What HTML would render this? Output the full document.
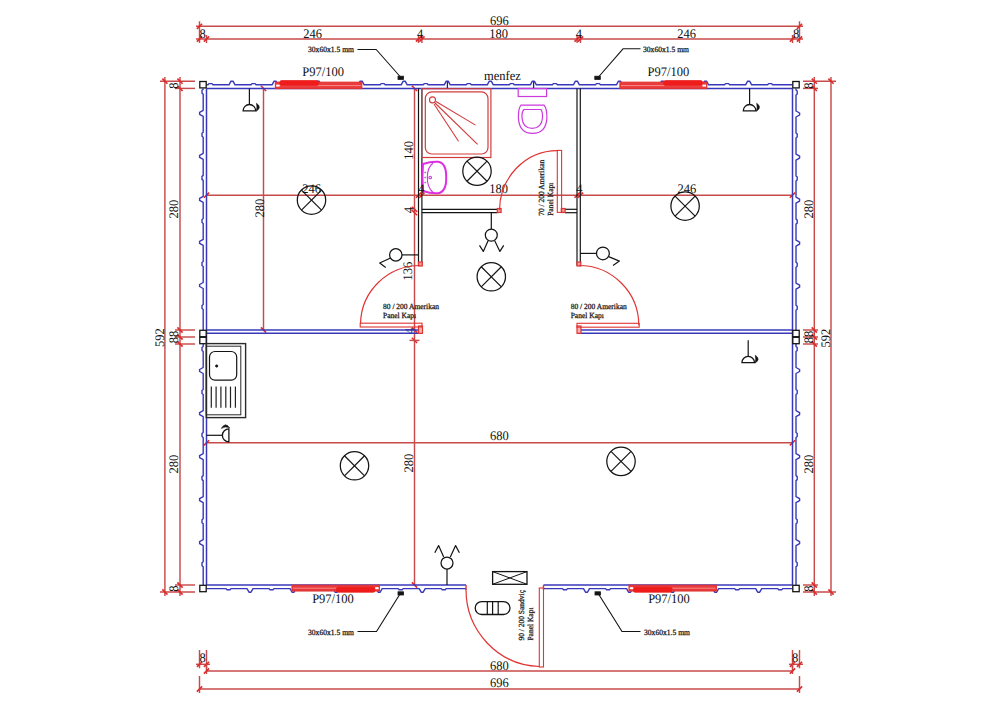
<!DOCTYPE html>
<html><head><meta charset="utf-8"><style>
html,body{margin:0;padding:0;background:#fff;width:1000px;height:707px;overflow:hidden}
svg{display:block}
text{font-family:"Liberation Serif",serif;text-rendering:geometricPrecision}
</style></head><body>
<svg width="1000" height="707" viewBox="0 0 1000 707">
<rect width="1000" height="707" fill="#fff"/>
<line x1="196" y1="26.3" x2="803" y2="26.3" stroke="#c84a4a" stroke-width="1.45" />
<line x1="196" y1="39" x2="803" y2="39" stroke="#c84a4a" stroke-width="1.45" />
<line x1="199.5" y1="21.3" x2="199.5" y2="43" stroke="#c84a4a" stroke-width="1.45" />
<line x1="196.9" y1="28.9" x2="202.1" y2="23.7" stroke="#e02a2a" stroke-width="1.6" />
<line x1="196.9" y1="41.6" x2="202.1" y2="36.4" stroke="#e02a2a" stroke-width="1.6" />
<line x1="799.5" y1="21.3" x2="799.5" y2="43" stroke="#c84a4a" stroke-width="1.45" />
<line x1="796.9" y1="28.9" x2="802.1" y2="23.7" stroke="#e02a2a" stroke-width="1.6" />
<line x1="796.9" y1="41.6" x2="802.1" y2="36.4" stroke="#e02a2a" stroke-width="1.6" />
<line x1="206.5" y1="35" x2="206.5" y2="43" stroke="#c84a4a" stroke-width="1.45" />
<line x1="203.9" y1="41.6" x2="209.1" y2="36.4" stroke="#e02a2a" stroke-width="1.6" />
<line x1="418.5" y1="35" x2="418.5" y2="43" stroke="#c84a4a" stroke-width="1.45" />
<line x1="415.9" y1="41.6" x2="421.1" y2="36.4" stroke="#e02a2a" stroke-width="1.6" />
<line x1="421.9" y1="35" x2="421.9" y2="43" stroke="#c84a4a" stroke-width="1.45" />
<line x1="419.3" y1="41.6" x2="424.5" y2="36.4" stroke="#e02a2a" stroke-width="1.6" />
<line x1="577.1" y1="35" x2="577.1" y2="43" stroke="#c84a4a" stroke-width="1.45" />
<line x1="574.5" y1="41.6" x2="579.7" y2="36.4" stroke="#e02a2a" stroke-width="1.6" />
<line x1="580.5" y1="35" x2="580.5" y2="43" stroke="#c84a4a" stroke-width="1.45" />
<line x1="577.9" y1="41.6" x2="583.1" y2="36.4" stroke="#e02a2a" stroke-width="1.6" />
<line x1="792.5" y1="35" x2="792.5" y2="43" stroke="#c84a4a" stroke-width="1.45" />
<line x1="789.9" y1="41.6" x2="795.1" y2="36.4" stroke="#e02a2a" stroke-width="1.6" />
<text transform="translate(499.3,24.8) scale(1,1.05)" font-size="12.5" text-anchor="middle" fill="#111" font-family="Liberation Serif">696</text>
<text transform="translate(202.6,37.5) scale(1,1.05)" font-size="12.5" text-anchor="middle" fill="#111" font-family="Liberation Serif">8</text>
<text transform="translate(312.5,37.5) scale(1,1.05)" font-size="12.5" text-anchor="middle" fill="#111" font-family="Liberation Serif">246</text>
<text transform="translate(420.2,37.5) scale(1,1.05)" font-size="12.5" text-anchor="middle" fill="#111" font-family="Liberation Serif">4</text>
<text transform="translate(498.5,37.5) scale(1,1.05)" font-size="12.5" text-anchor="middle" fill="#111" font-family="Liberation Serif">180</text>
<text transform="translate(578.8,37.5) scale(1,1.05)" font-size="12.5" text-anchor="middle" fill="#111" font-family="Liberation Serif">4</text>
<text transform="translate(686.5,37.5) scale(1,1.05)" font-size="12.5" text-anchor="middle" fill="#111" font-family="Liberation Serif">246</text>
<text transform="translate(796,37.5) scale(1,1.05)" font-size="12.5" text-anchor="middle" fill="#111" font-family="Liberation Serif">8</text>
<line x1="206.5" y1="671" x2="792.5" y2="671" stroke="#c84a4a" stroke-width="1.45" />
<line x1="196" y1="664.3" x2="210" y2="664.3" stroke="#c84a4a" stroke-width="1.45" />
<line x1="789" y1="664.3" x2="803" y2="664.3" stroke="#c84a4a" stroke-width="1.45" />
<line x1="199.5" y1="689" x2="799.5" y2="689" stroke="#c84a4a" stroke-width="1.45" />
<line x1="199.5" y1="650" x2="199.5" y2="668.3" stroke="#c84a4a" stroke-width="1.45" />
<line x1="196.9" y1="666.9" x2="202.1" y2="661.7" stroke="#e02a2a" stroke-width="1.6" />
<line x1="206.5" y1="650" x2="206.5" y2="668.3" stroke="#c84a4a" stroke-width="1.45" />
<line x1="203.9" y1="666.9" x2="209.1" y2="661.7" stroke="#e02a2a" stroke-width="1.6" />
<line x1="799.5" y1="650" x2="799.5" y2="668.3" stroke="#c84a4a" stroke-width="1.45" />
<line x1="796.9" y1="666.9" x2="802.1" y2="661.7" stroke="#e02a2a" stroke-width="1.6" />
<line x1="792.5" y1="650" x2="792.5" y2="668.3" stroke="#c84a4a" stroke-width="1.45" />
<line x1="789.9" y1="666.9" x2="795.1" y2="661.7" stroke="#e02a2a" stroke-width="1.6" />
<line x1="206.5" y1="664.3" x2="206.5" y2="674" stroke="#c84a4a" stroke-width="1.45" />
<line x1="203.9" y1="673.6" x2="209.1" y2="668.4" stroke="#e02a2a" stroke-width="1.6" />
<line x1="792.5" y1="664.3" x2="792.5" y2="674" stroke="#c84a4a" stroke-width="1.45" />
<line x1="789.9" y1="673.6" x2="795.1" y2="668.4" stroke="#e02a2a" stroke-width="1.6" />
<line x1="199.5" y1="676" x2="199.5" y2="693" stroke="#c84a4a" stroke-width="1.45" />
<line x1="196.9" y1="691.6" x2="202.1" y2="686.4" stroke="#e02a2a" stroke-width="1.6" />
<line x1="799.5" y1="676" x2="799.5" y2="693" stroke="#c84a4a" stroke-width="1.45" />
<line x1="796.9" y1="691.6" x2="802.1" y2="686.4" stroke="#e02a2a" stroke-width="1.6" />
<text transform="translate(202.5,662) scale(1,1.05)" font-size="12.5" text-anchor="middle" fill="#111" font-family="Liberation Serif">8</text>
<text transform="translate(795,662) scale(1,1.05)" font-size="12.5" text-anchor="middle" fill="#111" font-family="Liberation Serif">8</text>
<text transform="translate(499.3,670) scale(1,1.05)" font-size="12.5" text-anchor="middle" fill="#111" font-family="Liberation Serif">680</text>
<text transform="translate(499.3,687) scale(1,1.05)" font-size="12.5" text-anchor="middle" fill="#111" font-family="Liberation Serif">696</text>
<line x1="164.9" y1="77" x2="164.9" y2="596" stroke="#c84a4a" stroke-width="1.45" />
<line x1="180" y1="77" x2="180" y2="596" stroke="#c84a4a" stroke-width="1.45" />
<line x1="160" y1="81.2" x2="195" y2="81.2" stroke="#c84a4a" stroke-width="1.45" />
<line x1="160" y1="592" x2="195" y2="592" stroke="#c84a4a" stroke-width="1.45" />
<line x1="177.4" y1="78.6" x2="182.6" y2="83.8" stroke="#e02a2a" stroke-width="1.6" />
<line x1="175" y1="88.4" x2="195" y2="88.4" stroke="#c84a4a" stroke-width="1.45" />
<line x1="177.4" y1="85.8" x2="182.6" y2="91" stroke="#e02a2a" stroke-width="1.6" />
<line x1="175" y1="330" x2="195" y2="330" stroke="#c84a4a" stroke-width="1.45" />
<line x1="177.4" y1="327.4" x2="182.6" y2="332.6" stroke="#e02a2a" stroke-width="1.6" />
<line x1="175" y1="337" x2="195" y2="337" stroke="#c84a4a" stroke-width="1.45" />
<line x1="177.4" y1="334.4" x2="182.6" y2="339.6" stroke="#e02a2a" stroke-width="1.6" />
<line x1="175" y1="344" x2="195" y2="344" stroke="#c84a4a" stroke-width="1.45" />
<line x1="177.4" y1="341.4" x2="182.6" y2="346.6" stroke="#e02a2a" stroke-width="1.6" />
<line x1="175" y1="585" x2="195" y2="585" stroke="#c84a4a" stroke-width="1.45" />
<line x1="177.4" y1="582.4" x2="182.6" y2="587.6" stroke="#e02a2a" stroke-width="1.6" />
<line x1="177.4" y1="589.4" x2="182.6" y2="594.6" stroke="#e02a2a" stroke-width="1.6" />
<line x1="162.3" y1="78.6" x2="167.5" y2="83.8" stroke="#e02a2a" stroke-width="1.6" />
<line x1="162.3" y1="589.4" x2="167.5" y2="594.6" stroke="#e02a2a" stroke-width="1.6" />
<text transform="translate(159.7,337.5) rotate(-90) translate(0,4.12) scale(1,1.05)" font-size="12.5" text-anchor="middle" fill="#111" font-family="Liberation Serif">592</text>
<text transform="translate(174.3,85.5) rotate(-90) translate(0,4.12) scale(1,1.05)" font-size="12.5" text-anchor="middle" fill="#111" font-family="Liberation Serif">8</text>
<text transform="translate(174.3,209) rotate(-90) translate(0,4.12) scale(1,1.05)" font-size="12.5" text-anchor="middle" fill="#111" font-family="Liberation Serif">280</text>
<text transform="translate(174.3,337) rotate(-90) translate(0,4.12) scale(1,1.05)" font-size="12.5" text-anchor="middle" fill="#111" font-family="Liberation Serif">88</text>
<text transform="translate(174.3,464) rotate(-90) translate(0,4.12) scale(1,1.05)" font-size="12.5" text-anchor="middle" fill="#111" font-family="Liberation Serif">280</text>
<text transform="translate(174.3,588.5) rotate(-90) translate(0,4.12) scale(1,1.05)" font-size="12.5" text-anchor="middle" fill="#111" font-family="Liberation Serif">8</text>
<line x1="814.3" y1="77" x2="814.3" y2="596" stroke="#c84a4a" stroke-width="1.45" />
<line x1="831" y1="77" x2="831" y2="596" stroke="#c84a4a" stroke-width="1.45" />
<line x1="803" y1="81.2" x2="836" y2="81.2" stroke="#c84a4a" stroke-width="1.45" />
<line x1="803" y1="592" x2="836" y2="592" stroke="#c84a4a" stroke-width="1.45" />
<line x1="811.7" y1="78.6" x2="816.9" y2="83.8" stroke="#e02a2a" stroke-width="1.6" />
<line x1="803" y1="88.4" x2="818" y2="88.4" stroke="#c84a4a" stroke-width="1.45" />
<line x1="811.7" y1="85.8" x2="816.9" y2="91" stroke="#e02a2a" stroke-width="1.6" />
<line x1="803" y1="330" x2="818" y2="330" stroke="#c84a4a" stroke-width="1.45" />
<line x1="811.7" y1="327.4" x2="816.9" y2="332.6" stroke="#e02a2a" stroke-width="1.6" />
<line x1="803" y1="337" x2="818" y2="337" stroke="#c84a4a" stroke-width="1.45" />
<line x1="811.7" y1="334.4" x2="816.9" y2="339.6" stroke="#e02a2a" stroke-width="1.6" />
<line x1="803" y1="344" x2="818" y2="344" stroke="#c84a4a" stroke-width="1.45" />
<line x1="811.7" y1="341.4" x2="816.9" y2="346.6" stroke="#e02a2a" stroke-width="1.6" />
<line x1="803" y1="585" x2="818" y2="585" stroke="#c84a4a" stroke-width="1.45" />
<line x1="811.7" y1="582.4" x2="816.9" y2="587.6" stroke="#e02a2a" stroke-width="1.6" />
<line x1="811.7" y1="589.4" x2="816.9" y2="594.6" stroke="#e02a2a" stroke-width="1.6" />
<line x1="828.4" y1="78.6" x2="833.6" y2="83.8" stroke="#e02a2a" stroke-width="1.6" />
<line x1="828.4" y1="589.4" x2="833.6" y2="594.6" stroke="#e02a2a" stroke-width="1.6" />
<text transform="translate(825.6,338) rotate(-90) translate(0,4.12) scale(1,1.05)" font-size="12.5" text-anchor="middle" fill="#111" font-family="Liberation Serif">592</text>
<text transform="translate(809,85.5) rotate(-90) translate(0,4.12) scale(1,1.05)" font-size="12.5" text-anchor="middle" fill="#111" font-family="Liberation Serif">8</text>
<text transform="translate(809,209) rotate(-90) translate(0,4.12) scale(1,1.05)" font-size="12.5" text-anchor="middle" fill="#111" font-family="Liberation Serif">280</text>
<text transform="translate(809,337) rotate(-90) translate(0,4.12) scale(1,1.05)" font-size="12.5" text-anchor="middle" fill="#111" font-family="Liberation Serif">88</text>
<text transform="translate(809,464) rotate(-90) translate(0,4.12) scale(1,1.05)" font-size="12.5" text-anchor="middle" fill="#111" font-family="Liberation Serif">280</text>
<text transform="translate(809,588.5) rotate(-90) translate(0,4.12) scale(1,1.05)" font-size="12.5" text-anchor="middle" fill="#111" font-family="Liberation Serif">8</text>
<line x1="263.5" y1="88.4" x2="263.5" y2="330" stroke="#c84a4a" stroke-width="1.45" />
<line x1="260.9" y1="85.8" x2="266.1" y2="91" stroke="#e02a2a" stroke-width="1.6" />
<line x1="260.9" y1="327.4" x2="266.1" y2="332.6" stroke="#e02a2a" stroke-width="1.6" />
<text transform="translate(259.8,208) rotate(-90) translate(0,4.12) scale(1,1.05)" font-size="12.5" text-anchor="middle" fill="#111" font-family="Liberation Serif">280</text>
<line x1="414.5" y1="88.4" x2="414.5" y2="585" stroke="#c84a4a" stroke-width="1.45" />
<line x1="411.9" y1="85.8" x2="417.1" y2="91" stroke="#e02a2a" stroke-width="1.6" />
<line x1="411.9" y1="206.7" x2="417.1" y2="211.9" stroke="#e02a2a" stroke-width="1.6" />
<line x1="411.9" y1="210.1" x2="417.1" y2="215.3" stroke="#e02a2a" stroke-width="1.6" />
<line x1="411.9" y1="327.4" x2="417.1" y2="332.6" stroke="#e02a2a" stroke-width="1.6" />
<line x1="411.9" y1="337.8" x2="417.1" y2="343" stroke="#e02a2a" stroke-width="1.6" />
<line x1="411.9" y1="582.4" x2="417.1" y2="587.6" stroke="#e02a2a" stroke-width="1.6" />
<line x1="409.5" y1="340.4" x2="419.5" y2="340.4" stroke="#c84a4a" stroke-width="1.45" />
<text transform="translate(409.6,331.2) rotate(-90) translate(0,4.12) scale(1,1.05)" font-size="12.5" text-anchor="middle" fill="#1a1a50" font-family="Liberation Serif">4</text>
<text transform="translate(409,150.3) rotate(-90) translate(0,4.12) scale(1,1.05)" font-size="12.5" text-anchor="middle" fill="#111" font-family="Liberation Serif">140</text>
<text transform="translate(408.5,210) rotate(-90) translate(0,4.12) scale(1,1.05)" font-size="12.5" text-anchor="middle" fill="#111" font-family="Liberation Serif">4</text>
<text transform="translate(407.8,271) rotate(-90) translate(0,4.12) scale(1,1.05)" font-size="12.5" text-anchor="middle" fill="#111" font-family="Liberation Serif">136</text>
<text transform="translate(408.5,463) rotate(-90) translate(0,4.12) scale(1,1.05)" font-size="12.5" text-anchor="middle" fill="#111" font-family="Liberation Serif">280</text>
<line x1="206.5" y1="195.2" x2="792.5" y2="195.2" stroke="#c84a4a" stroke-width="1.45" />
<line x1="203.9" y1="197.8" x2="209.1" y2="192.6" stroke="#e02a2a" stroke-width="1.6" />
<line x1="415.9" y1="197.8" x2="421.1" y2="192.6" stroke="#e02a2a" stroke-width="1.6" />
<line x1="419.3" y1="197.8" x2="424.5" y2="192.6" stroke="#e02a2a" stroke-width="1.6" />
<line x1="574.5" y1="197.8" x2="579.7" y2="192.6" stroke="#e02a2a" stroke-width="1.6" />
<line x1="577.9" y1="197.8" x2="583.1" y2="192.6" stroke="#e02a2a" stroke-width="1.6" />
<line x1="789.9" y1="197.8" x2="795.1" y2="192.6" stroke="#e02a2a" stroke-width="1.6" />
<text transform="translate(311.7,193) scale(1,1.05)" font-size="12.5" text-anchor="middle" fill="#111" font-family="Liberation Serif">246</text>
<text transform="translate(498.5,193) scale(1,1.05)" font-size="12.5" text-anchor="middle" fill="#111" font-family="Liberation Serif">180</text>
<text transform="translate(686.8,192.5) scale(1,1.05)" font-size="12.5" text-anchor="middle" fill="#111" font-family="Liberation Serif">246</text>
<line x1="206.5" y1="442.8" x2="792.5" y2="442.8" stroke="#c84a4a" stroke-width="1.45" />
<line x1="203.9" y1="445.4" x2="209.1" y2="440.2" stroke="#e02a2a" stroke-width="1.6" />
<line x1="789.9" y1="445.4" x2="795.1" y2="440.2" stroke="#e02a2a" stroke-width="1.6" />
<text transform="translate(499.3,440.4) scale(1,1.05)" font-size="12.5" text-anchor="middle" fill="#111" font-family="Liberation Serif">680</text>
<line x1="206.5" y1="88.4" x2="792.5" y2="88.4" stroke="#3838bc" stroke-width="1.5" />
<path d="M206.5,84.8 L207.97,84.8 L208.97,83.6 L211.97,83.6 L212.97,84.8 L229,84.8 L231,81.2 L233,81.2 L235,84.8 L251.03,84.8 L252.03,83.6 L255.03,83.6 L256.02,84.8 L272.05,84.8 L274.05,81.2 L276.05,81.2 L278.05,84.8 L294.07,84.8 L295.07,83.6 L298.07,83.6 L299.07,84.8 L315.1,84.8 L317.1,81.2 L319.1,81.2 L321.1,84.8 L337.12,84.8 L338.12,83.6 L341.12,83.6 L342.12,84.8 L358.15,84.8 L360.15,81.2 L362.15,81.2 L364.15,84.8 L380.17,84.8 L381.17,83.6 L384.17,83.6 L385.17,84.8 L401.2,84.8 L403.2,81.2 L405.2,81.2 L407.2,84.8 L423.22,84.8 L424.22,83.6 L427.22,83.6 L428.22,84.8 L444.25,84.8 L446.25,81.2 L448.25,81.2 L450.25,84.8 L466.27,84.8 L467.27,83.6 L470.27,83.6 L471.27,84.8 L487.3,84.8 L489.3,81.2 L491.3,81.2 L493.3,84.8 L509.32,84.8 L510.32,83.6 L513.32,83.6 L514.32,84.8 L530.35,84.8 L532.35,81.2 L534.35,81.2 L536.35,84.8 L552.37,84.8 L553.37,83.6 L556.37,83.6 L557.37,84.8 L573.4,84.8 L575.4,81.2 L577.4,81.2 L579.4,84.8 L595.42,84.8 L596.42,83.6 L599.42,83.6 L600.42,84.8 L616.45,84.8 L618.45,81.2 L620.45,81.2 L622.45,84.8 L638.48,84.8 L639.48,83.6 L642.48,83.6 L643.48,84.8 L659.5,84.8 L661.5,81.2 L663.5,81.2 L665.5,84.8 L681.52,84.8 L682.52,83.6 L685.52,83.6 L686.52,84.8 L702.55,84.8 L704.55,81.2 L706.55,81.2 L708.55,84.8 L724.57,84.8 L725.57,83.6 L728.57,83.6 L729.57,84.8 L745.6,84.8 L747.6,81.2 L749.6,81.2 L751.6,84.8 L767.62,84.8 L768.62,83.6 L771.62,83.6 L772.62,84.8 L792.5,84.8" stroke="#3838bc" stroke-width="1.4" fill="none" stroke-linejoin="round"/>
<line x1="206.5" y1="585" x2="466" y2="585" stroke="#3838bc" stroke-width="1.5" />
<line x1="543.5" y1="585" x2="792.5" y2="585" stroke="#3838bc" stroke-width="1.5" />
<path d="M206.5,588.6 L225.97,588.6 L226.97,589.8 L229.97,589.8 L230.97,588.6 L247,588.6 L249,592.2 L251,592.2 L253,588.6 L269.02,588.6 L270.02,589.8 L273.02,589.8 L274.02,588.6 L290.05,588.6 L292.05,592.2 L294.05,592.2 L296.05,588.6 L312.07,588.6 L313.07,589.8 L316.07,589.8 L317.07,588.6 L333.1,588.6 L335.1,592.2 L337.1,592.2 L339.1,588.6 L355.12,588.6 L356.12,589.8 L359.12,589.8 L360.12,588.6 L376.15,588.6 L378.15,592.2 L380.15,592.2 L382.15,588.6 L398.17,588.6 L399.17,589.8 L402.17,589.8 L403.17,588.6 L419.2,588.6 L421.2,592.2 L423.2,592.2 L425.2,588.6 L441.22,588.6 L442.22,589.8 L445.22,589.8 L446.22,588.6 L466,588.6" stroke="#3838bc" stroke-width="1.4" fill="none" stroke-linejoin="round"/>
<path d="M543.5,588.6 L562.48,588.6 L563.48,589.8 L566.48,589.8 L567.48,588.6 L583.5,588.6 L585.5,592.2 L587.5,592.2 L589.5,588.6 L605.52,588.6 L606.52,589.8 L609.52,589.8 L610.52,588.6 L626.55,588.6 L628.55,592.2 L630.55,592.2 L632.55,588.6 L648.57,588.6 L649.57,589.8 L652.57,589.8 L653.57,588.6 L669.6,588.6 L671.6,592.2 L673.6,592.2 L675.6,588.6 L691.62,588.6 L692.62,589.8 L695.62,589.8 L696.62,588.6 L712.65,588.6 L714.65,592.2 L716.65,592.2 L718.65,588.6 L734.67,588.6 L735.67,589.8 L738.67,589.8 L739.67,588.6 L755.7,588.6 L757.7,592.2 L759.7,592.2 L761.7,588.6 L777.73,588.6 L778.73,589.8 L781.73,589.8 L782.73,588.6 L792.5,588.6" stroke="#3838bc" stroke-width="1.4" fill="none" stroke-linejoin="round"/>
<line x1="206.5" y1="88.4" x2="206.5" y2="585" stroke="#3838bc" stroke-width="1.5" />
<path d="M203.2,88.4 L203.2,89.28 L202,90.28 L202,93.28 L203.2,94.28 L203.2,110.3 L199.6,112.3 L199.6,114.3 L203.2,116.3 L203.2,132.32 L202,133.32 L202,136.32 L203.2,137.32 L203.2,153.35 L199.6,155.35 L199.6,157.35 L203.2,159.35 L203.2,175.38 L202,176.38 L202,179.38 L203.2,180.38 L203.2,196.4 L199.6,198.4 L199.6,200.4 L203.2,202.4 L203.2,218.42 L202,219.42 L202,222.42 L203.2,223.42 L203.2,239.45 L199.6,241.45 L199.6,243.45 L203.2,245.45 L203.2,261.47 L202,262.47 L202,265.47 L203.2,266.47 L203.2,282.5 L199.6,284.5 L199.6,286.5 L203.2,288.5 L203.2,304.52 L202,305.52 L202,308.52 L203.2,309.52 L203.2,330" stroke="#3838bc" stroke-width="1.4" fill="none" stroke-linejoin="round"/>
<path d="M203.2,344 L203.2,346.47 L202,347.47 L202,350.47 L203.2,351.47 L203.2,367.5 L199.6,369.5 L199.6,371.5 L203.2,373.5 L203.2,389.52 L202,390.52 L202,393.52 L203.2,394.52 L203.2,410.55 L199.6,412.55 L199.6,414.55 L203.2,416.55 L203.2,432.57 L202,433.57 L202,436.57 L203.2,437.57 L203.2,453.6 L199.6,455.6 L199.6,457.6 L203.2,459.6 L203.2,475.62 L202,476.62 L202,479.62 L203.2,480.62 L203.2,496.65 L199.6,498.65 L199.6,500.65 L203.2,502.65 L203.2,518.67 L202,519.67 L202,522.67 L203.2,523.67 L203.2,539.7 L199.6,541.7 L199.6,543.7 L203.2,545.7 L203.2,561.73 L202,562.73 L202,565.73 L203.2,566.73 L203.2,585" stroke="#3838bc" stroke-width="1.4" fill="none" stroke-linejoin="round"/>
<line x1="792.5" y1="88.4" x2="792.5" y2="585" stroke="#3838bc" stroke-width="1.5" />
<path d="M796,88.4 L796,89.97 L797.2,90.97 L797.2,93.97 L796,94.97 L796,111 L799.6,113 L799.6,115 L796,117 L796,133.03 L797.2,134.03 L797.2,137.03 L796,138.03 L796,154.05 L799.6,156.05 L799.6,158.05 L796,160.05 L796,176.08 L797.2,177.08 L797.2,180.08 L796,181.08 L796,197.1 L799.6,199.1 L799.6,201.1 L796,203.1 L796,219.12 L797.2,220.12 L797.2,223.12 L796,224.12 L796,240.15 L799.6,242.15 L799.6,244.15 L796,246.15 L796,262.17 L797.2,263.17 L797.2,266.17 L796,267.17 L796,283.2 L799.6,285.2 L799.6,287.2 L796,289.2 L796,305.22 L797.2,306.22 L797.2,309.22 L796,310.22 L796,330" stroke="#3838bc" stroke-width="1.4" fill="none" stroke-linejoin="round"/>
<path d="M796,344 L796,346.47 L797.2,347.47 L797.2,350.47 L796,351.47 L796,367.5 L799.6,369.5 L799.6,371.5 L796,373.5 L796,389.52 L797.2,390.52 L797.2,393.52 L796,394.52 L796,410.55 L799.6,412.55 L799.6,414.55 L796,416.55 L796,432.57 L797.2,433.57 L797.2,436.57 L796,437.57 L796,453.6 L799.6,455.6 L799.6,457.6 L796,459.6 L796,475.62 L797.2,476.62 L797.2,479.62 L796,480.62 L796,496.65 L799.6,498.65 L799.6,500.65 L796,502.65 L796,518.67 L797.2,519.67 L797.2,522.67 L796,523.67 L796,539.7 L799.6,541.7 L799.6,543.7 L796,545.7 L796,561.73 L797.2,562.73 L797.2,565.73 L796,566.73 L796,585" stroke="#3838bc" stroke-width="1.4" fill="none" stroke-linejoin="round"/>
<line x1="447.4" y1="81.8" x2="447.4" y2="88.4" stroke="#20207a" stroke-width="1.3" />
<line x1="533.6" y1="81.8" x2="533.6" y2="88.4" stroke="#20207a" stroke-width="1.3" />
<line x1="206.5" y1="330" x2="422" y2="330" stroke="#3838bc" stroke-width="1.5" />
<line x1="206.5" y1="333.3" x2="422" y2="333.3" stroke="#3838bc" stroke-width="1.5" />
<line x1="577" y1="330" x2="792.5" y2="330" stroke="#3838bc" stroke-width="1.5" />
<line x1="577" y1="333.3" x2="792.5" y2="333.3" stroke="#3838bc" stroke-width="1.5" />
<path d="M466,585 L466,590" stroke="#e03434" stroke-width="1.4" fill="none" />
<path d="M543.5,585 L543.5,590" stroke="#e03434" stroke-width="1.4" fill="none" />
<rect x="199.8" y="81.5" width="6.4" height="6.4" rx="0" stroke="#141414" stroke-width="1.3" fill="#fff"/>
<rect x="792.8" y="81.5" width="6.4" height="6.4" rx="0" stroke="#141414" stroke-width="1.3" fill="#fff"/>
<rect x="199.8" y="585.3" width="6.4" height="6.4" rx="0" stroke="#141414" stroke-width="1.3" fill="#fff"/>
<rect x="792.8" y="585.3" width="6.4" height="6.4" rx="0" stroke="#141414" stroke-width="1.3" fill="#fff"/>
<rect x="199.8" y="330.3" width="6.4" height="6.4" rx="0" stroke="#141414" stroke-width="1.3" fill="#fff"/>
<rect x="199.8" y="337.3" width="6.4" height="6.4" rx="0" stroke="#141414" stroke-width="1.3" fill="#fff"/>
<rect x="792.8" y="330.3" width="6.4" height="6.4" rx="0" stroke="#141414" stroke-width="1.3" fill="#fff"/>
<rect x="792.8" y="337.3" width="6.4" height="6.4" rx="0" stroke="#141414" stroke-width="1.3" fill="#fff"/>
<rect x="275.4" y="82.2" width="86.4" height="6.4" rx="0" stroke="#e03434" stroke-width="1.1" fill="#ec3a3a"/>
<line x1="276.4" y1="85.6" x2="360.8" y2="85.6" stroke="#f5a0a0" stroke-width="0.8" />
<rect x="279.9" y="80.6" width="38.5" height="4.8" rx="1.5" stroke="#e82020" stroke-width="0.8" fill="#f01c1c"/>
<rect x="276.2" y="84.6" width="3.4" height="2" rx="0" stroke="#fff" stroke-width="0" fill="#fff"/>
<rect x="619.9" y="82.2" width="86.9" height="6.4" rx="0" stroke="#e03434" stroke-width="1.1" fill="#ec3a3a"/>
<line x1="620.9" y1="85.6" x2="705.8" y2="85.6" stroke="#f5a0a0" stroke-width="0.8" />
<rect x="663.8" y="80.6" width="38.5" height="4.8" rx="1.5" stroke="#e82020" stroke-width="0.8" fill="#f01c1c"/>
<rect x="702.6" y="84.6" width="3.4" height="2" rx="0" stroke="#fff" stroke-width="0" fill="#fff"/>
<rect x="292" y="585.2" width="87.4" height="5.8" rx="0" stroke="#e03434" stroke-width="1.1" fill="#ec3a3a"/>
<line x1="293" y1="588.2" x2="378.4" y2="588.2" stroke="#f5a0a0" stroke-width="0.8" />
<rect x="336.4" y="587.2" width="38.5" height="5" rx="1.5" stroke="#e82020" stroke-width="0.8" fill="#f01c1c"/>
<rect x="375.2" y="587.2" width="3.4" height="2" rx="0" stroke="#fff" stroke-width="0" fill="#fff"/>
<rect x="629" y="585.2" width="87.4" height="5.8" rx="0" stroke="#e03434" stroke-width="1.1" fill="#ec3a3a"/>
<line x1="630" y1="588.2" x2="715.4" y2="588.2" stroke="#f5a0a0" stroke-width="0.8" />
<rect x="633.5" y="587.2" width="38.5" height="5" rx="1.5" stroke="#e82020" stroke-width="0.8" fill="#f01c1c"/>
<rect x="629.8" y="587.2" width="3.4" height="2" rx="0" stroke="#fff" stroke-width="0" fill="#fff"/>
<line x1="418.5" y1="88.4" x2="418.5" y2="265.5" stroke="#141414" stroke-width="1.2" />
<line x1="421.9" y1="88.4" x2="421.9" y2="265.5" stroke="#141414" stroke-width="1.2" />
<line x1="577" y1="88.4" x2="577" y2="265.5" stroke="#141414" stroke-width="1.2" />
<line x1="580.3" y1="88.4" x2="580.3" y2="265.5" stroke="#141414" stroke-width="1.2" />
<line x1="421.9" y1="209.3" x2="497.5" y2="209.3" stroke="#141414" stroke-width="1.2" />
<line x1="421.9" y1="212.7" x2="497.5" y2="212.7" stroke="#141414" stroke-width="1.2" />
<line x1="565" y1="209.3" x2="577" y2="209.3" stroke="#141414" stroke-width="1.2" />
<line x1="565" y1="212.7" x2="577" y2="212.7" stroke="#141414" stroke-width="1.2" />
<rect x="418.5" y="262" width="3.8" height="4" rx="0" stroke="#e03434" stroke-width="1.2" fill="#f29a9a"/>
<rect x="497.3" y="208.5" width="3.8" height="4" rx="0" stroke="#e03434" stroke-width="1.2" fill="#f29a9a"/>
<rect x="561.3" y="208.5" width="3.8" height="4" rx="0" stroke="#e03434" stroke-width="1.2" fill="#f29a9a"/>
<rect x="577" y="262" width="3.8" height="4" rx="0" stroke="#e03434" stroke-width="1.2" fill="#f29a9a"/>
<rect x="418.5" y="326" width="4" height="7.3" rx="0" stroke="#e03434" stroke-width="1.2" fill="#f5b5b5"/>
<rect x="577" y="326" width="4" height="7.3" rx="0" stroke="#e03434" stroke-width="1.2" fill="#f5b5b5"/>
<rect x="421.6" y="88.7" width="69.3" height="68.8" rx="0" stroke="#d23c3c" stroke-width="1.2" fill="none"/>
<rect x="425.3" y="91.9" width="62.7" height="62.1" rx="6.5" stroke="#d23c3c" stroke-width="1.2" fill="none"/>
<circle cx="432.5" cy="99.9" r="3" stroke="#d23c3c" stroke-width="1.1" fill="none"/>
<line x1="436" y1="101.5" x2="475.5" y2="125.1" stroke="#d23c3c" stroke-width="1.1" />
<line x1="435" y1="103" x2="477.6" y2="144.4" stroke="#d23c3c" stroke-width="1.1" />
<line x1="434" y1="104" x2="458.5" y2="141.3" stroke="#d23c3c" stroke-width="1.1" />
<rect x="518.2" y="88.5" width="28.4" height="8" rx="0" stroke="#cc3ade" stroke-width="1.2" fill="none"/>
<path d="M521,105.2 L544,105.2 Q547,108 546.9,118 Q546,133.4 532.6,133.4 Q519.2,133.4 518.4,118 Q518.3,108 521,105.2 Z" stroke="#cc3ade" stroke-width="1.2" fill="none" />
<path d="M524,109.5 L541,109.5 Q542.8,112 542.5,118 Q541.5,128.4 532.2,128.4 Q522.9,128.4 522,118 Q521.6,112 524,109.5 Z" stroke="#cc3ade" stroke-width="1.2" fill="none" />
<path d="M423,164 Q431,161.4 438,161.8 Q446.5,163 446.2,177.5 Q446.5,192 438,193.2 Q431,193.6 423,191 Q421.8,177.5 423,164 Z" stroke="#dd2ee0" stroke-width="2.0" fill="none" />
<path d="M433,163 Q427,168 427.4,177.5 Q427,187 433,192.5" stroke="#cc3ade" stroke-width="1.1" fill="none" />
<circle cx="430.2" cy="177.5" r="1.3" stroke="#cc3ade" stroke-width="1.1" fill="none"/>
<circle cx="425.2" cy="172.5" r="0.5" stroke="#cc3ade" stroke-width="1.0" fill="none"/>
<circle cx="425.2" cy="177.5" r="0.5" stroke="#cc3ade" stroke-width="1.0" fill="none"/>
<circle cx="425.2" cy="182.5" r="0.5" stroke="#cc3ade" stroke-width="1.0" fill="none"/>
<circle cx="311.5" cy="200.1" r="14.2" stroke="#141414" stroke-width="1.25" fill="none"/>
<line x1="301.46" y1="190.06" x2="321.54" y2="210.14" stroke="#141414" stroke-width="1.2" />
<line x1="301.46" y1="210.14" x2="321.54" y2="190.06" stroke="#141414" stroke-width="1.2" />
<circle cx="685.1" cy="206.1" r="14.2" stroke="#141414" stroke-width="1.25" fill="none"/>
<line x1="675.06" y1="196.06" x2="695.14" y2="216.14" stroke="#141414" stroke-width="1.2" />
<line x1="675.06" y1="216.14" x2="695.14" y2="196.06" stroke="#141414" stroke-width="1.2" />
<circle cx="477" cy="171.2" r="14.2" stroke="#141414" stroke-width="1.25" fill="none"/>
<line x1="466.96" y1="161.16" x2="487.04" y2="181.24" stroke="#141414" stroke-width="1.2" />
<line x1="466.96" y1="181.24" x2="487.04" y2="161.16" stroke="#141414" stroke-width="1.2" />
<circle cx="491.3" cy="276.8" r="14.2" stroke="#141414" stroke-width="1.25" fill="none"/>
<line x1="481.26" y1="266.76" x2="501.34" y2="286.84" stroke="#141414" stroke-width="1.2" />
<line x1="481.26" y1="286.84" x2="501.34" y2="266.76" stroke="#141414" stroke-width="1.2" />
<circle cx="354.5" cy="465.8" r="14.2" stroke="#141414" stroke-width="1.25" fill="none"/>
<line x1="344.46" y1="455.76" x2="364.54" y2="475.84" stroke="#141414" stroke-width="1.2" />
<line x1="344.46" y1="475.84" x2="364.54" y2="455.76" stroke="#141414" stroke-width="1.2" />
<circle cx="621" cy="461.4" r="14.2" stroke="#141414" stroke-width="1.25" fill="none"/>
<line x1="610.96" y1="451.36" x2="631.04" y2="471.44" stroke="#141414" stroke-width="1.2" />
<line x1="610.96" y1="471.44" x2="631.04" y2="451.36" stroke="#141414" stroke-width="1.2" />
<line x1="491.3" y1="212.7" x2="491.3" y2="229.1" stroke="#141414" stroke-width="1.2" />
<circle cx="491.3" cy="235.1" r="6" stroke="#141414" stroke-width="1.25" fill="none"/>
<path d="M488.2,240.5 L483.3,251.4 L479.5,245.4" stroke="#141414" stroke-width="1.2" fill="none" stroke-linejoin="round"/>
<path d="M494.6,240.5 L499.9,251.4 L503.7,245.4" stroke="#141414" stroke-width="1.2" fill="none" stroke-linejoin="round"/>
<line x1="447" y1="585" x2="447" y2="569" stroke="#141414" stroke-width="1.2" />
<circle cx="447" cy="563" r="6" stroke="#141414" stroke-width="1.25" fill="none"/>
<path d="M443.7,557 L438.6,545.6 L434.8,552.8" stroke="#141414" stroke-width="1.2" fill="none" stroke-linejoin="round"/>
<path d="M450.3,557 L455.6,545.6 L459.4,552.8" stroke="#141414" stroke-width="1.2" fill="none" stroke-linejoin="round"/>
<line x1="402" y1="254.9" x2="418.5" y2="254.9" stroke="#141414" stroke-width="1.2" />
<circle cx="395.8" cy="254.9" r="6.2" stroke="#141414" stroke-width="1.25" fill="none"/>
<path d="M390,258.2 L379.7,263 L385.7,267.5" stroke="#141414" stroke-width="1.2" fill="none" stroke-linejoin="round"/>
<line x1="580.3" y1="253.4" x2="596.5" y2="253.4" stroke="#141414" stroke-width="1.2" />
<circle cx="602.9" cy="253.4" r="6.4" stroke="#141414" stroke-width="1.25" fill="none"/>
<path d="M608.6,256.6 L619.4,261.1 L613,265.4" stroke="#141414" stroke-width="1.2" fill="none" stroke-linejoin="round"/>
<line x1="249.4" y1="88.4" x2="249.4" y2="104.3" stroke="#141414" stroke-width="1.2" />
<path d="M243.1,110.8 A6.3,6.3 0 0 1 255.7,110.8 Z" stroke="#141414" stroke-width="1.3" fill="none" />
<path d="M256.5,103.3 Q262.3,107.3 256.3,111.2 Q257.5,107.3 256.5,103.3 Z" stroke="#141414" stroke-width="0.6" fill="#141414" />
<line x1="749.6" y1="88.4" x2="749.6" y2="104.3" stroke="#141414" stroke-width="1.2" />
<path d="M743.3,110.8 A6.3,6.3 0 0 1 755.9,110.8 Z" stroke="#141414" stroke-width="1.3" fill="none" />
<path d="M756.7,103.3 Q762.5,107.3 756.5,111.2 Q757.7,107.3 756.7,103.3 Z" stroke="#141414" stroke-width="0.6" fill="#141414" />
<line x1="748.2" y1="340.2" x2="748.2" y2="356.2" stroke="#141414" stroke-width="1.2" />
<path d="M741.9,362.7 A6.3,6.3 0 0 1 754.5,362.7 Z" stroke="#141414" stroke-width="1.3" fill="none" />
<path d="M755.3,355.2 Q761.1,359.2 755.1,363.1 Q756.3,359.2 755.3,355.2 Z" stroke="#141414" stroke-width="0.6" fill="#141414" />
<line x1="206.5" y1="435.3" x2="222.5" y2="435.3" stroke="#141414" stroke-width="1.2" />
<path d="M228.9,428.9 A6.5,6.5 0 0 0 228.9,441.9 Z" stroke="#141414" stroke-width="1.3" fill="none" />
<path d="M221.3,428.4 Q225.3,421.6 229.6,427.8 Q225.3,425.8 221.3,428.4 Z" stroke="#141414" stroke-width="0.6" fill="#141414" />
<rect x="206.3" y="343.6" width="39.3" height="74" rx="0" stroke="#2a2a2a" stroke-width="1.4" fill="none"/>
<rect x="206.3" y="346.2" width="34.5" height="68.6" rx="0" stroke="#2a2a2a" stroke-width="1.0" fill="none"/>
<rect x="209.5" y="351.5" width="27.2" height="28.7" rx="5.5" stroke="#141414" stroke-width="1.2" fill="none"/>
<circle cx="216.7" cy="366" r="1.1" stroke="#141414" stroke-width="1.0" fill="#141414"/>
<line x1="211.3" y1="386.6" x2="211.3" y2="407.8" stroke="#222" stroke-width="1.2" />
<line x1="216.1" y1="386.6" x2="216.1" y2="407.8" stroke="#222" stroke-width="1.2" />
<line x1="220.9" y1="386.6" x2="220.9" y2="407.8" stroke="#222" stroke-width="1.2" />
<line x1="225.8" y1="386.6" x2="225.8" y2="407.8" stroke="#222" stroke-width="1.2" />
<line x1="230.5" y1="386.6" x2="230.5" y2="407.8" stroke="#222" stroke-width="1.2" />
<line x1="235.4" y1="386.6" x2="235.4" y2="407.8" stroke="#222" stroke-width="1.2" />
<rect x="360.2" y="323.2" width="61.8" height="3.8" rx="0" stroke="#e03434" stroke-width="1.1" fill="none"/>
<path d="M360.5,323.2 A59.5,59.5 0 0 1 420,265.5" stroke="#e03434" stroke-width="1.2" fill="none" />
<rect x="577" y="323.3" width="62.2" height="3.9" rx="0" stroke="#e03434" stroke-width="1.1" fill="none"/>
<path d="M579,265.5 A59.8,59.8 0 0 1 638.8,325.3" stroke="#e03434" stroke-width="1.2" fill="none" />
<rect x="557.3" y="150.4" width="4.3" height="62" rx="0" stroke="#e03434" stroke-width="1.1" fill="none"/>
<path d="M557.3,150.6 A58,60 0 0 0 499.5,210" stroke="#e03434" stroke-width="1.2" fill="none" />
<rect x="539.3" y="588" width="4.2" height="79" rx="0" stroke="#e03434" stroke-width="1.1" fill="none"/>
<path d="M466,589 A75.5,77 0 0 0 539.3,666.5" stroke="#e03434" stroke-width="1.2" fill="none" />
<rect x="492.6" y="571.6" width="34.4" height="12.7" rx="0" stroke="#141414" stroke-width="1.3" fill="none"/>
<line x1="492.6" y1="571.6" x2="527" y2="584.3" stroke="#141414" stroke-width="1.0" />
<line x1="492.6" y1="584.3" x2="527" y2="571.6" stroke="#141414" stroke-width="1.0" />
<path d="M481.6,601.7 L503.6,601.7 A6.4,6.4 0 0 1 503.6,614.5 L481.6,614.5 A6.4,6.4 0 0 1 481.6,601.7 Z" stroke="#141414" stroke-width="1.3" fill="none" />
<line x1="487.3" y1="601.7" x2="487.3" y2="614.5" stroke="#141414" stroke-width="1.2" />
<line x1="492.6" y1="601.7" x2="492.6" y2="614.5" stroke="#141414" stroke-width="1.2" />
<line x1="498.2" y1="601.7" x2="498.2" y2="614.5" stroke="#141414" stroke-width="1.2" />
<path d="M357.5,49.5 L376.2,49.5 L400.5,77" stroke="#141414" stroke-width="1.1" fill="none" stroke-linejoin="round"/>
<rect x="398" y="76.2" width="5.5" height="3.2" rx="0" stroke="#141414" stroke-width="0.8" fill="#141414"/>
<path d="M640.5,48.8 L623,48.8 L598.5,77" stroke="#141414" stroke-width="1.1" fill="none" stroke-linejoin="round"/>
<rect x="594.8" y="76.2" width="5.5" height="3.2" rx="0" stroke="#141414" stroke-width="0.8" fill="#141414"/>
<path d="M357.5,631.5 L376.5,631.5 L400,594" stroke="#141414" stroke-width="1.1" fill="none" stroke-linejoin="round"/>
<rect x="398" y="591.8" width="5.5" height="3.2" rx="0" stroke="#141414" stroke-width="0.8" fill="#141414"/>
<path d="M640.5,631.5 L622,631.5 L598.5,594" stroke="#141414" stroke-width="1.1" fill="none" stroke-linejoin="round"/>
<rect x="595" y="591.8" width="5.5" height="3.2" rx="0" stroke="#141414" stroke-width="0.8" fill="#141414"/>
<text transform="translate(354,52) scale(1,1.05)" font-size="7.6" text-anchor="end" fill="#111" font-family="Liberation Serif" stroke="#222" stroke-width="0.25">30x60x1.5 mm</text>
<text transform="translate(643,51.5) scale(1,1.05)" font-size="7.6" text-anchor="start" fill="#111" font-family="Liberation Serif" stroke="#222" stroke-width="0.25">30x60x1.5 mm</text>
<text transform="translate(354,634.5) scale(1,1.05)" font-size="7.6" text-anchor="end" fill="#111" font-family="Liberation Serif" stroke="#222" stroke-width="0.25">30x60x1.5 mm</text>
<text transform="translate(644,634.5) scale(1,1.05)" font-size="7.6" text-anchor="start" fill="#111" font-family="Liberation Serif" stroke="#222" stroke-width="0.25">30x60x1.5 mm</text>
<text transform="translate(323.2,76.3) scale(1,1.05)" font-size="12.5" text-anchor="middle" fill="#111" font-family="Liberation Serif">P97/100</text>
<text transform="translate(668.3,76.3) scale(1,1.05)" font-size="12.5" text-anchor="middle" fill="#111" font-family="Liberation Serif">P97/100</text>
<text transform="translate(333,603.3) scale(1,1.05)" font-size="12.5" text-anchor="middle" fill="#111" font-family="Liberation Serif">P97/100</text>
<text transform="translate(669,603.3) scale(1,1.05)" font-size="12.5" text-anchor="middle" fill="#111" font-family="Liberation Serif">P97/100</text>
<text transform="translate(502.4,79.8) scale(1,1.05)" font-size="12.5" text-anchor="middle" fill="#111" font-family="Liberation Serif">menfez</text>
<text transform="translate(383,308.5) scale(1,1.05)" font-size="7.5" text-anchor="start" fill="#111" font-family="Liberation Serif" stroke="#222" stroke-width="0.25">80 / 200 Amerikan</text>
<text transform="translate(383,317.5) scale(1,1.05)" font-size="7.5" text-anchor="start" fill="#111" font-family="Liberation Serif" stroke="#222" stroke-width="0.25">Panel Kapı</text>
<text transform="translate(570.7,308.5) scale(1,1.05)" font-size="7.5" text-anchor="start" fill="#111" font-family="Liberation Serif" stroke="#222" stroke-width="0.25">80 / 200 Amerikan</text>
<text transform="translate(570.7,317.5) scale(1,1.05)" font-size="7.5" text-anchor="start" fill="#111" font-family="Liberation Serif" stroke="#222" stroke-width="0.25">Panel Kapı</text>
<text transform="translate(541.5,215.8) rotate(-90) translate(0,2.6) scale(1,1.05)" font-size="7.5" text-anchor="start" fill="#111" font-family="Liberation Serif" stroke="#222" stroke-width="0.25">70 / 200 Amerikan</text>
<text transform="translate(550,215.8) rotate(-90) translate(0,2.6) scale(1,1.05)" font-size="7.5" text-anchor="start" fill="#111" font-family="Liberation Serif" stroke="#222" stroke-width="0.25">Panel Kapı</text>
<text transform="translate(521.6,640.6) rotate(-90) translate(0,2.6) scale(1,1.05)" font-size="7.5" text-anchor="start" fill="#111" font-family="Liberation Serif" stroke="#222" stroke-width="0.25">90 / 200 Sandviç</text>
<text transform="translate(530,640.6) rotate(-90) translate(0,2.6) scale(1,1.05)" font-size="7.5" text-anchor="start" fill="#111" font-family="Liberation Serif" stroke="#222" stroke-width="0.25">Panel Kapı</text>
<text transform="translate(421.3,193) scale(1,1.05)" font-size="12.5" text-anchor="middle" fill="#111" font-family="Liberation Serif">4</text>
<text transform="translate(579.3,193) scale(1,1.05)" font-size="12.5" text-anchor="middle" fill="#111" font-family="Liberation Serif">4</text>
</svg>
</body></html>
